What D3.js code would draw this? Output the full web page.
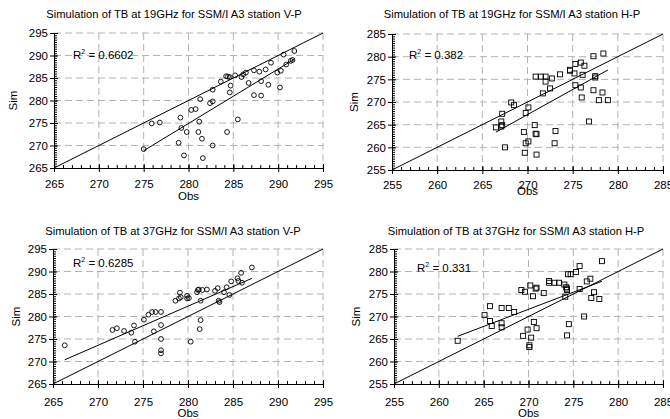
<!DOCTYPE html>
<html>
<head>
<meta charset="utf-8">
<script src="https://cdn.jsdelivr.net/npm/d3@7"></script>
<style>
body { margin: 0; background: #fff; }
svg { font-family: "Liberation Sans", Arial, sans-serif; }
</style>
</head>
<body>
<svg id="drawing_region" width="670" height="419"></svg>
<script>
// ---- data ----
const titles = [
    "Simulation of TB at 19GHz for SSM/I A3 station V-P",
    "Simulation of TB at 19GHz for SSM/I A3 station H-P",
    "Simulation of TB at 37GHz for SSM/I A3 station V-P",
    "Simulation of TB at 37GHz for SSM/I A3 station H-P"
];
const r2Labels = ["0.6602", "0.382", "0.6285", "0.331"];

const obs19V = [275.0,275.9,276.8,278.9,279.1,279.2,279.5,279.8,280.3,280.8,281.1,281.2,281.3,281.5,281.6,282.4,282.7,282.7,282.7,283.6,284.2,284.3,284.4,284.6,284.6,284.7,285.2,285.5,285.9,286.1,286.4,286.7,287.3,287.3,287.9,288.1,288.1,288.6,288.9,289.2,289.9,290.2,290.3,290.6,290.9,291.4,291.6,291.8];
const sim19V = [269.2,274.9,275.1,270.6,276.2,273.9,267.8,273.0,277.9,278.1,273.0,275.3,280.3,271.5,267.2,279.4,279.8,282.4,270.0,284.2,285.4,273.0,285.3,285.2,281.8,283.3,285.6,275.8,285.2,285.8,286.2,283.9,286.7,281.2,286.4,284.3,281.1,286.9,283.5,288.4,286.2,282.9,286.6,290.2,288.0,288.8,289.0,291.0];

const obs19H = [266.5,267.2,267.1,267.2,267.1,267.5,268.2,268.5,269.6,269.7,269.8,269.8,270.1,270.1,270.8,270.9,270.9,271.0,271.0,271.5,271.7,272.0,272.0,272.5,272.7,273.0,273.1,273.6,274.7,274.7,275.3,275.2,275.3,275.9,275.9,276.0,276.1,276.3,276.8,277.3,277.3,277.5,277.5,277.9,278.3,278.4,278.9];
const sim19H = [264.4,267.4,265.7,264.9,264.6,260.0,269.9,269.3,263.4,258.8,260.9,267.6,268.8,261.3,264.9,275.6,263.0,262.9,258.4,275.6,271.9,275.6,274.5,273.0,275.2,260.9,263.6,276.1,276.9,277.1,278.4,276.3,273.7,278.7,273.2,271.0,276.0,278.0,265.7,280.1,272.6,275.7,275.4,270.4,272.1,280.7,270.4];

const obs37V = [266.3,271.6,272.1,272.9,273.7,274.0,274.1,275.1,275.6,276.0,276.2,276.4,277.0,277.0,277.0,277.0,277.0,278.6,279.0,279.1,279.2,279.9,279.9,280.1,280.3,281.0,281.1,281.2,281.4,281.4,281.3,281.6,282.1,283.0,283.3,283.4,283.5,284.0,284.3,284.6,284.8,285.5,285.6,285.9,286.0,287.1];
const sim37V = [273.6,277.0,277.4,276.8,276.4,278.0,274.4,279.3,280.4,281.0,276.7,281.0,278.1,281.0,275.0,272.5,271.8,283.5,284.0,285.3,284.3,284.6,284.0,284.1,274.4,285.4,285.9,286.0,283.5,279.2,277.2,285.9,286.0,285.7,286.3,283.5,283.2,285.4,286.5,284.8,287.8,288.5,287.9,289.7,287.5,290.9];

const obs37H = [262.1,265.1,265.7,265.7,265.9,267.0,267.0,267.0,267.8,268.4,269.2,269.4,269.6,269.9,270.1,270.1,270.2,270.3,270.5,270.6,270.8,270.9,270.9,271.7,272.3,272.3,272.9,273.4,274.0,274.1,274.2,274.3,274.3,274.3,274.4,274.5,274.7,275.3,275.7,275.7,276.2,276.5,276.9,277.0,277.3,277.9,278.2];
const sim37H = [264.6,270.3,272.3,269.0,267.9,271.9,268.5,267.6,271.9,271.0,275.9,265.7,275.5,267.1,263.6,263.2,276.9,265.3,274.5,268.8,276.2,276.4,267.4,275.2,277.9,277.5,277.5,277.5,277.1,274.4,276.5,276.2,275.9,265.8,279.4,268.3,279.4,279.9,281.2,276.1,270.0,277.8,278.4,274.1,275.4,273.9,282.3];

// linear trend lines (slope, intercept) as drawn in the figure
const trendSlope = [1.21, 1.106, 0.87, 0.76];
const trendIntercept = [-63.9, -31.4, 38.7, 66.4];

// axis ticks
const ticksV = [265, 270, 275, 280, 285, 290, 295];
const ticksH = [255, 260, 265, 270, 275, 280, 285];

class ScatterPanel {

    constructor( config, data ) {
        this.config = config;
        this.data = data;
        this.init();
    }

    init() {
        let self = this;
        const c = self.config;

        self.svg = d3.select( c.parent ).append('g');

        self.xscale = d3.scaleLinear()
            .domain( d3.extent(self.data.ticks) )
            .range( [c.left, c.right] );
        self.yscale = d3.scaleLinear()
            .domain( d3.extent(self.data.ticks) )
            .range( [c.bottom, c.top] );
    }

    render() {
        let self = this;
        const c = self.config;
        const d = self.data;
        const x = self.xscale, y = self.yscale;
        const lo = d.ticks[0], hi = d.ticks[d.ticks.length-1];

        // dashed grid
        self.svg.append('g').selectAll('line.vg')
            .data(d.ticks.slice(1))
            .enter().append('line')
            .attr('x1', v => x(v)).attr('x2', v => x(v))
            .attr('y1', c.top).attr('y2', c.bottom)
            .attr('stroke', '#b4b4b4').attr('stroke-dasharray', '7,4');
        self.svg.append('g').selectAll('line.hg')
            .data(d.ticks.slice(1))
            .enter().append('line')
            .attr('x1', c.left).attr('x2', c.right)
            .attr('y1', v => y(v)).attr('y2', v => y(v))
            .attr('stroke', '#b4b4b4').attr('stroke-dasharray', '7,4');

        // x axis
        self.svg.append('g')
            .attr('transform', `translate(0, ${c.bottom})`)
            .call( d3.axisBottom(x).tickValues(d.ticks).tickSize(4).tickSizeOuter(0).tickPadding(c.xpad) );
        self.svg.append('g')
            .attr('transform', `translate(0, ${c.bottom})`)
            .call( d3.axisBottom(x).tickValues(d.ticks).tickSize(-4).tickFormat('') )
            .select('.domain').remove();
        self.svg.append('g')
            .attr('transform', `translate(0, ${c.bottom})`)
            .call( d3.axisBottom(x).tickValues(d3.range(lo, hi + 0.5, 1)).tickSize(-3).tickFormat('') )
            .select('.domain').remove();

        // y axis
        self.svg.append('g')
            .attr('transform', `translate(${c.left}, 0)`)
            .call( d3.axisLeft(y).tickValues(d.ticks).tickSize(4).tickSizeOuter(0).tickPadding(2) );
        self.svg.append('g')
            .attr('transform', `translate(${c.left}, 0)`)
            .call( d3.axisRight(y).tickValues(d.ticks).tickSize(4).tickFormat('') )
            .select('.domain').remove();
        self.svg.append('g')
            .attr('transform', `translate(${c.left}, 0)`)
            .call( d3.axisRight(y).tickValues(d3.range(lo, hi + 0.25, 0.5)).tickSize(3).tickFormat('') )
            .select('.domain').remove();

        self.svg.selectAll('.tick text')
            .style('font-size', '11.5px')
            .attr('fill', '#000');
        self.svg.selectAll('.domain, .tick line')
            .attr('stroke', '#000');

        // 1:1 line
        self.svg.append('line')
            .attr('x1', x(lo)).attr('y1', y(lo))
            .attr('x2', x(hi)).attr('y2', y(hi))
            .attr('stroke', '#000').attr('stroke-width', 1);

        // trend line
        const xmin = d3.min(d.obs), xmax = d3.max(d.obs);
        self.svg.append('line')
            .attr('x1', x(xmin)).attr('y1', y(d.slope * xmin + d.intercept))
            .attr('x2', x(xmax)).attr('y2', y(d.slope * xmax + d.intercept))
            .attr('stroke', '#000').attr('stroke-width', 1);

        // points
        const pts = d.obs.map((o, i) => ({ o: o, s: d.sim[i] }));
        if (d.marker === 'circle') {
            self.svg.append('g').selectAll('circle')
                .data(pts).enter().append('circle')
                .attr('cx', p => x(p.o)).attr('cy', p => y(p.s))
                .attr('r', 2.4)
                .attr('fill', 'none').attr('stroke', '#000').attr('stroke-width', 0.9);
        } else {
            self.svg.append('g').selectAll('rect')
                .data(pts).enter().append('rect')
                .attr('x', p => x(p.o) - 2.5).attr('y', p => y(p.s) - 2.5)
                .attr('width', 5).attr('height', 5)
                .attr('fill', 'none').attr('stroke', '#000').attr('stroke-width', 0.9);
        }

        // title
        self.svg.append('text')
            .attr('x', c.titleX).attr('y', c.titleY)
            .attr('text-anchor', 'middle')
            .style('font-size', '11.2px')
            .text(d.title);

        // R^2
        const r2 = self.svg.append('text')
            .attr('x', c.r2X).attr('y', c.r2Y)
            .style('font-size', '11.5px');
        r2.append('tspan').text('R');
        r2.append('tspan').attr('dy', -5).style('font-size', '7px').text('2');
        r2.append('tspan').attr('dy', 5).text(' = ' + d.r2);

        // axis labels
        self.svg.append('text')
            .attr('x', (c.left + c.right) / 2).attr('y', c.obsY)
            .attr('text-anchor', 'middle')
            .style('font-size', '11.5px')
            .text('Obs');
        self.svg.append('text')
            .attr('transform', `translate(${c.simX}, ${(c.top + c.bottom) / 2}) rotate(-90)`)
            .attr('text-anchor', 'middle')
            .style('font-size', '11.5px')
            .text('Sim');
    }
}

const panels = [
    { cfg: { left: 54, right: 323, top: 33, bottom: 168, titleX: 174, titleY: 18, r2X: 73, r2Y: 59, obsY: 200, simX: 17, xpad: 8 },
      data: { obs: obs19V, sim: sim19V, ticks: ticksV, marker: 'circle' } },
    { cfg: { left: 392, right: 663, top: 34, bottom: 170, titleX: 512, titleY: 18, r2X: 409, r2Y: 59, obsY: 195, simX: 358, xpad: 7 },
      data: { obs: obs19H, sim: sim19H, ticks: ticksH, marker: 'square' } },
    { cfg: { left: 53, right: 323, top: 249, bottom: 384, titleX: 173, titleY: 235, r2X: 73, r2Y: 267, obsY: 417, simX: 20, xpad: 10 },
      data: { obs: obs37V, sim: sim37V, ticks: ticksV, marker: 'circle' } },
    { cfg: { left: 394, right: 663, top: 249, bottom: 384, titleX: 516, titleY: 235, r2X: 417, r2Y: 272, obsY: 417, simX: 360, xpad: 10 },
      data: { obs: obs37H, sim: sim37H, ticks: ticksH, marker: 'square' } }
];

panels.forEach( (p, i) => {
    p.cfg.parent = '#drawing_region';
    p.data.title = titles[i];
    p.data.r2 = r2Labels[i];
    p.data.slope = trendSlope[i];
    p.data.intercept = trendIntercept[i];
    const panel = new ScatterPanel( p.cfg, p.data );
    panel.render();
});
</script>
</body>
</html>
